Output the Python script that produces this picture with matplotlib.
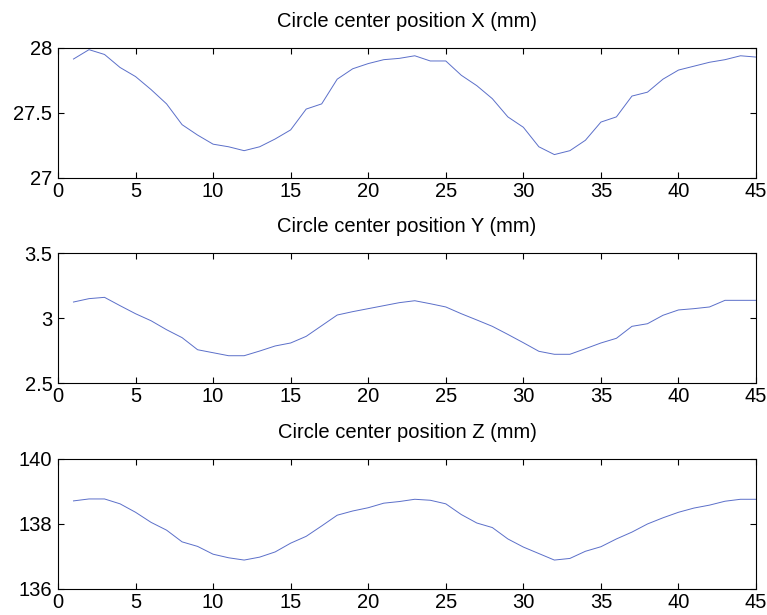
import numpy as np
import matplotlib.pyplot as plt

plt.rcParams['font.family'] = ['Liberation Sans', 'DejaVu Sans']

# sample index
steps = list(range(1, 46))

pos_x = [27.915, 27.987, 27.95, 27.85, 27.78, 27.68, 27.57, 27.41, 27.33, 27.26,
         27.24, 27.21, 27.24, 27.30, 27.37, 27.53, 27.57, 27.76, 27.84, 27.88,
         27.91, 27.92, 27.94, 27.90, 27.90, 27.79, 27.71, 27.61, 27.47, 27.39,
         27.24, 27.18, 27.21, 27.29, 27.43, 27.47, 27.63, 27.66, 27.76, 27.83,
         27.86, 27.89, 27.91, 27.94, 27.93]

pos_y = [3.123, 3.149, 3.159, 3.095, 3.033, 2.979, 2.910, 2.849, 2.756, 2.733,
         2.710, 2.710, 2.746, 2.785, 2.808, 2.859, 2.941, 3.023, 3.049, 3.072,
         3.095, 3.118, 3.133, 3.110, 3.085, 3.033, 2.985, 2.936, 2.874, 2.810,
         2.744, 2.721, 2.721, 2.764, 2.808, 2.844, 2.936, 2.956, 3.021, 3.062,
         3.072, 3.085, 3.136, 3.136, 3.136]

pos_z = [138.71, 138.77, 138.77, 138.62, 138.36, 138.05, 137.81, 137.45, 137.31, 137.07,
         136.96, 136.89, 136.98, 137.14, 137.41, 137.62, 137.94, 138.27, 138.40, 138.50,
         138.64, 138.69, 138.76, 138.73, 138.62, 138.29, 138.03, 137.89, 137.54, 137.29,
         137.09, 136.89, 136.94, 137.16, 137.30, 137.54, 137.75, 138.00, 138.19, 138.36,
         138.49, 138.58, 138.70, 138.76, 138.76]

titles = ['Circle center position X (mm)',
          'Circle center position Y (mm)',
          'Circle center position Z (mm)']
ylims = [(27, 28), (2.5, 3.5), (136, 140)]
yticks = [[27, 27.5, 28], [2.5, 3, 3.5], [136, 138, 140]]
ytick_labels = [['27', '27.5', '28'], ['2.5', '3', '3.5'], ['136', '138', '140']]

fig = plt.figure(figsize=(7.67, 6.15), dpi=100)
# axes boxes (left, bottom, width, height) in figure fraction
boxes = [[0.0756, 0.7106, 0.9101, 0.2114],
         [0.0756, 0.3772, 0.9101, 0.2114],
         [0.0756, 0.0423, 0.9101, 0.2114]]

for i, data in enumerate([pos_x, pos_y, pos_z]):
    ax = fig.add_axes(boxes[i])
    ax.plot(steps, data, color='#5b6fc9', linewidth=0.7)
    ax.set_xlim(0, 45)
    ax.set_ylim(*ylims[i])
    ax.set_xticks(range(0, 46, 5))
    ax.set_yticks(yticks[i])
    ax.set_yticklabels(ytick_labels[i])
    ax.tick_params(direction='in', top=True, right=True, length=4,
                   labelsize=14.5, width=0.8)
    ax.tick_params(axis='y', pad=4)
    ax.tick_params(axis='x', pad=3)
    for sp in ax.spines.values():
        sp.set_linewidth(0.8)
    ax.set_title(titles[i], fontsize=14.5, pad=15)

plt.savefig('out.png', dpi=100)
